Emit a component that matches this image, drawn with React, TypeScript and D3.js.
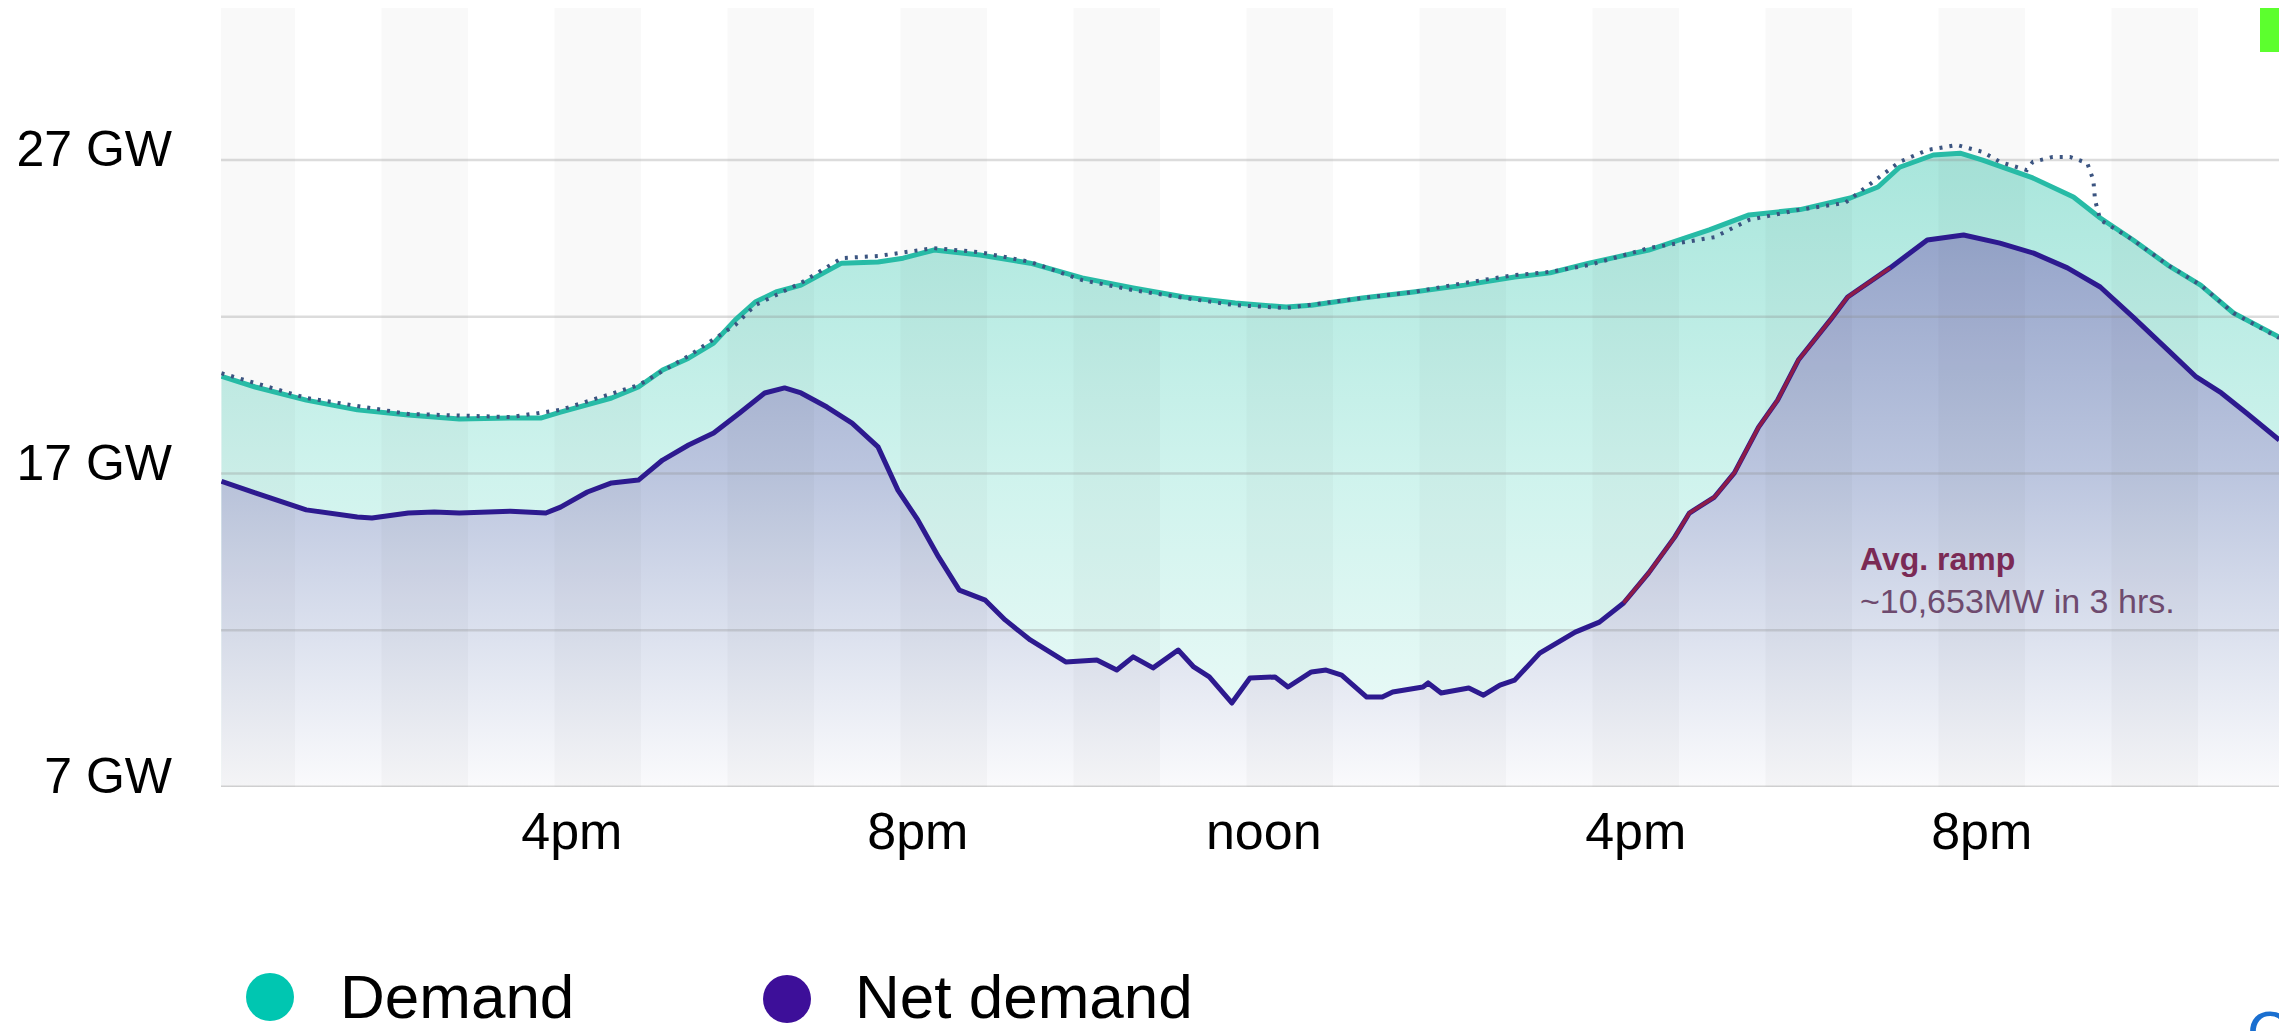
import React from "react";
import * as d3 from "d3";

// ---- data (hour of day, GW) ----
const demandSeries: [number, number][] = [
  [0.15, 20.1], [0.54, 19.76], [1.13, 19.34], [1.72, 19.03], [2.31, 18.87], [2.9, 18.74],
  [3.49, 18.77], [3.84, 18.77], [4.07, 18.96], [4.66, 19.41], [4.97, 19.76], [5.25, 20.3],
  [5.55, 20.68], [5.84, 21.16], [6.09, 21.9], [6.32, 22.47], [6.56, 22.79], [6.85, 23.01],
  [7.32, 23.71], [7.74, 23.75], [8.03, 23.87], [8.39, 24.13], [8.92, 23.97], [9.5, 23.71],
  [10.1, 23.24], [10.69, 22.92], [11.28, 22.63], [11.87, 22.44], [12.46, 22.31], [12.75, 22.37],
  [13.34, 22.6], [13.93, 22.79], [14.52, 23.01], [15.1, 23.27], [15.51, 23.4], [15.96, 23.71],
  [16.65, 24.13], [17.35, 24.77], [17.81, 25.25], [18.4, 25.42], [18.98, 25.79], [19.3, 26.14],
  [19.55, 26.77], [19.94, 27.16], [20.25, 27.22], [20.51, 27.0], [21.09, 26.43], [21.56, 25.82],
  [21.87, 25.15], [22.25, 24.45], [22.65, 23.65], [23.03, 23.01], [23.41, 22.12], [23.94, 21.35],
];

const forecastSeries: [number, number][] = [
  [0.15, 20.2], [1.13, 19.41], [2.31, 18.9], [3.49, 18.8], [4.07, 19.03], [4.97, 19.82],
  [5.55, 20.75], [6.09, 21.74], [6.32, 22.37], [6.85, 23.08], [7.32, 23.87], [7.74, 23.94],
  [8.39, 24.19], [8.92, 24.06], [9.5, 23.75], [10.1, 23.17], [10.69, 22.85], [11.28, 22.6],
  [11.87, 22.37], [12.46, 22.28], [13.34, 22.6], [13.93, 22.79], [14.52, 23.08], [15.1, 23.33],
  [15.51, 23.43], [15.96, 23.65], [16.65, 24.19], [17.41, 24.54], [17.81, 25.09], [18.38, 25.41],
  [18.92, 25.63], [19.55, 26.94], [19.87, 27.32], [20.21, 27.48], [20.51, 27.26], [20.71, 26.94],
  [21.02, 26.68], [21.09, 26.94], [21.32, 27.1], [21.52, 27.1], [21.72, 26.9], [21.79, 26.36],
  [21.81, 25.72], [21.87, 25.09], [22.25, 24.45], [22.65, 23.65], [23.03, 23.01], [23.41, 22.12],
  [23.94, 21.32],
];

const netDemandSeries: [number, number][] = [
  [0.15, 16.75], [0.54, 16.38], [1.13, 15.84], [1.72, 15.61], [1.89, 15.58], [2.31, 15.74],
  [2.61, 15.77], [2.9, 15.74], [3.49, 15.8], [3.9, 15.74], [4.07, 15.93], [4.38, 16.41],
  [4.66, 16.7], [4.97, 16.79], [5.25, 17.43], [5.55, 17.91], [5.84, 18.29], [6.14, 18.93],
  [6.43, 19.57], [6.66, 19.73], [6.85, 19.57], [7.15, 19.12], [7.44, 18.61], [7.74, 17.85],
  [7.97, 16.47], [8.2, 15.52], [8.44, 14.34], [8.68, 13.28], [8.98, 12.96], [9.21, 12.33],
  [9.5, 11.69], [9.91, 10.99], [10.27, 11.05], [10.5, 10.73], [10.69, 11.15], [10.92, 10.8],
  [11.21, 11.37], [11.39, 10.83], [11.57, 10.51], [11.83, 9.68], [12.04, 10.48], [12.33, 10.51],
  [12.48, 10.19], [12.75, 10.67], [12.92, 10.73], [13.1, 10.57], [13.39, 9.87], [13.57, 9.87],
  [13.69, 10.03], [14.04, 10.19], [14.1, 10.32], [14.25, 10.0], [14.57, 10.16], [14.74, 9.93],
  [14.93, 10.25], [15.1, 10.41], [15.39, 11.27], [15.8, 11.94], [16.08, 12.26], [16.36, 12.87],
  [16.65, 13.83], [16.95, 14.97], [17.12, 15.74], [17.41, 16.25], [17.64, 17.02], [17.92, 18.48],
  [18.14, 19.34], [18.38, 20.62], [18.75, 21.9], [18.95, 22.63], [19.44, 23.56], [19.87, 24.45],
  [20.29, 24.61], [20.71, 24.35], [21.1, 24.03], [21.49, 23.56], [21.87, 22.95], [22.25, 21.99],
  [22.69, 20.84], [22.98, 20.08], [23.27, 19.57], [23.56, 18.93], [23.94, 18.07],
];

const rampWindow = [16.36, 19.44];
const gridValues = [7, 12, 17, 22, 27];
const yTickValues = [7, 17, 27];
const yTickLabels = ["7 GW", "17 GW", "27 GW"];
const xTickHours = [4.2, 8.2, 12.2, 16.5, 20.5];
const xTickLabels = ["4pm", "8pm", "noon", "4pm", "8pm"];
const legendItems = ["Demand", "Net demand"];
const annotationTitle = "Avg. ramp";
const annotationText = "~10,653MW in 3 hrs.";

export default function App() {
  const W = 2279;
  const H = 1031;
  const plotLeft = 221;
  const plotTop = 8;
  const axisY = 787;

  const x = d3.scaleLinear().domain([0, 24]).range([208.5, 2284.5]);
  const y = d3.scaleLinear().domain([7, 31.85]).range([axisY, plotTop]);

  const line = d3
    .line<[number, number]>()
    .x((d) => x(d[0]))
    .y((d) => y(d[1]))
    .curve(d3.curveLinear);
  const area = d3
    .area<[number, number]>()
    .x((d) => x(d[0]))
    .y0(y(7))
    .y1((d) => y(d[1]))
    .curve(d3.curveLinear);

  const rampPts = netDemandSeries.filter((d) => d[0] >= rampWindow[0] && d[0] <= rampWindow[1]);

  const bands = d3.range(0, 24, 2);
  const font = "'Liberation Sans', Arial, sans-serif";

  return (
    <svg
      width={W}
      height={H}
      style={{ position: "absolute", left: 0, top: 0, display: "block", background: "#fff" }}
      fontFamily={font}
    >
      <defs>
        <clipPath id="plotClip">
          <rect x={plotLeft} y={plotTop} width={W - plotLeft} height={axisY - plotTop} />
        </clipPath>
        <linearGradient id="demandGrad" gradientUnits="userSpaceOnUse" x1={0} x2={0} y1={y(27)} y2={y(7)}>
          <stop offset="0" stopColor="#a9e6dc" />
          <stop offset="0.5" stopColor="#cff3ed" />
          <stop offset="1" stopColor="#effbf9" />
        </linearGradient>
        <linearGradient id="netGrad" gradientUnits="userSpaceOnUse" x1={0} x2={0} y1={y(25)} y2={y(7)}>
          <stop offset="0" stopColor="#94a3c9" />
          <stop offset="0.45" stopColor="#bcc6df" />
          <stop offset="0.8" stopColor="#e4e8f2" />
          <stop offset="1" stopColor="#fafafc" />
        </linearGradient>
      </defs>

      <g clipPath="url(#plotClip)">
        <path d={area(demandSeries) || ""} fill="url(#demandGrad)" />
        <path d={area(netDemandSeries) || ""} fill="url(#netGrad)" />
        {bands.map((h) => (
          <rect
            key={h}
            x={x(h)}
            y={plotTop}
            width={x(h + 1) - x(h)}
            height={axisY - plotTop}
            fill="#000"
            fillOpacity={0.022}
          />
        ))}
        {gridValues.map((v) => (
          <line
            key={v}
            x1={plotLeft}
            x2={W}
            y1={y(v)}
            y2={y(v)}
            stroke="#8a8a8a"
            strokeOpacity={v === 7 ? 0.35 : 0.3}
            strokeWidth={v === 7 ? 3 : 2.5}
          />
        ))}
        <path d={line(demandSeries) || ""} fill="none" stroke="#27bba6" strokeWidth={5} strokeLinejoin="round" />
        <path
          d={line(forecastSeries) || ""}
          fill="none"
          stroke="#3b5480"
          strokeWidth={4}
          strokeDasharray="3 7"
        />
        <path d={line(netDemandSeries) || ""} fill="none" stroke="#2d1a8f" strokeWidth={5} strokeLinejoin="round" />
        <path d={line(rampPts) || ""} fill="none" stroke="#8e1c48" strokeWidth={3.5} strokeLinejoin="round" />
      </g>

      {yTickValues.map((v, i) => (
        <text key={v} x={172} y={y(v) + 6} textAnchor="end" fontSize={50} fill="#000">
          {yTickLabels[i]}
        </text>
      ))}

      {xTickHours.map((h, i) => (
        <text key={i} x={x(h)} y={849} textAnchor="middle" fontSize={52} fill="#000">
          {xTickLabels[i]}
        </text>
      ))}

      <text x={1860} y={570} fontSize={32} fontWeight="bold" fill="#7b2a55">
        {annotationTitle}
      </text>
      <text x={1860} y={613} fontSize={34} fill="#6e4a6e">
        {annotationText}
      </text>

      <circle cx={270} cy={997} r={24} fill="#00c6b1" />
      <text x={340} y={1018} fontSize={62} fill="#000">
        {legendItems[0]}
      </text>
      <circle cx={787} cy={999} r={24} fill="#3d0f99" />
      <text x={855} y={1018} fontSize={62} fill="#000">
        {legendItems[1]}
      </text>

      <rect x={2260} y={8} width={19} height={44} fill="#5cff2e" />
      <text x={2247} y={1053} fontSize={60} fill="#1a6fd0">
        C
      </text>
    </svg>
  );
}
